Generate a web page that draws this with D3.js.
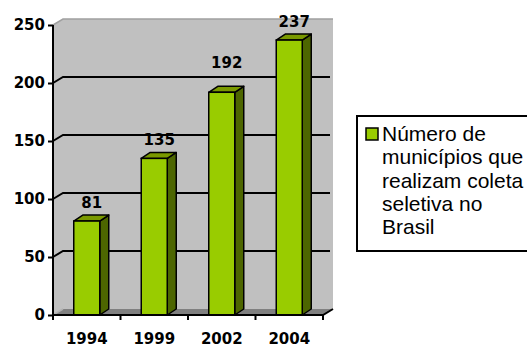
<!DOCTYPE html>
<html>
<head>
<meta charset="utf-8">
<script src="https://d3js.org/d3.v7.min.js"></script>
<style>
  html, body { margin: 0; padding: 0; background: #ffffff; }
  svg { display: block; }
</style>
</head>
<body>
<div id="chart"></div>
<script>
// Chart data
const years = ["1994", "1999", "2002", "2004"];
const municipios = [81, 135, 192, 237];
const yTicks = [0, 50, 100, 150, 200, 250];
const seriesName = ["Número de", "municípios que", "realizam coleta", "seletiva no", "Brasil"];

const W = 527, H = 351;
const svg = d3.select("#chart").append("svg").attr("width", W).attr("height", H);

// Plot frame and oblique depth
const x0 = 53, x1 = 323, yBase = 315, yTop = 25;
const DX = 10, DY = -6;      // wall depth
const BDX = 9, BDY = -6;     // bar depth

const y = d3.scaleLinear().domain([0, 250]).range([yBase, yTop]);
const x = d3.scaleBand().domain(years).range([x0, x1]);

const labelFont = "'DejaVu Sans', Verdana, sans-serif";

// Back + side wall
svg.append("path")
  .attr("d", `M${x0},${y(250)} L${x0 + DX},${y(250) + DY} L${x1 + DX},${y(250) + DY} L${x1 + DX},${yBase + DY} L${x0 + DX},${yBase + DY} L${x0},${yBase} Z`)
  .attr("fill", "#c0c0c0");
// top edge of the wall
svg.append("path")
  .attr("d", `M${x0},${y(250)} L${x0 + DX},${y(250) + DY} L${x1 + DX},${y(250) + DY}`)
  .attr("fill", "none").attr("stroke", "#a0a0a0").attr("stroke-width", 1.5);

// Floor
svg.append("path")
  .attr("d", `M${x0},${yBase} L${x0 + DX},${yBase + DY} L${x1 + DX},${yBase + DY} L${x1},${yBase} Z`)
  .attr("fill", "#808080");
svg.append("path")
  .attr("d", `M${x0},${yBase} L${x0 + DX},${yBase + DY}`)
  .attr("stroke", "#b0b0b0").attr("stroke-width", 1.5);

// Gridlines on the back wall, with their diagonal links to the axis
const gridVals = yTicks.filter(v => v > 0 && v < 250);
svg.append("g").selectAll("path").data(gridVals).join("path")
  .attr("d", v => `M${x0},${y(v)} L${x0 + DX},${y(v) + DY} L${x1 + DX - 3},${y(v) + DY}`)
  .attr("fill", "none").attr("stroke", "#000").attr("stroke-width", 2);

// Y axis
const yAxis = d3.axisLeft(y).tickValues(yTicks).tickSize(5).tickPadding(3);
const gy = svg.append("g").attr("transform", `translate(${x0},0)`).call(yAxis);
gy.select(".domain").remove();
gy.selectAll(".tick line").attr("stroke", "#000").attr("stroke-width", 2);
gy.selectAll(".tick text")
  .attr("font-family", labelFont).attr("font-weight", "bold").attr("font-size", 15)
  .attr("fill", "#000");
svg.append("line").attr("x1", x0).attr("x2", x0).attr("y1", y(250)).attr("y2", yBase + 5)
  .attr("stroke", "#000").attr("stroke-width", 2);

// Bars (front, side, top faces)
const bw = 26;
const bars = svg.append("g").selectAll("g").data(years.map((yr, i) => ({ yr, v: municipios[i] }))).join("g");
bars.each(function (d) {
  const g = d3.select(this);
  const bx = x(d.yr) + x.bandwidth() / 2 - bw / 2;
  const top = y(d.v);
  g.append("path")
    .attr("d", `M${bx + bw},${yBase} L${bx + bw + BDX},${yBase + BDY} L${bx + bw + BDX},${top + BDY} L${bx + bw},${top} Z`)
    .attr("fill", "#4d6600").attr("stroke", "#000").attr("stroke-width", 1.5).attr("stroke-linejoin", "round");
  g.append("path")
    .attr("d", `M${bx},${top} L${bx + BDX},${top + BDY} L${bx + bw + BDX},${top + BDY} L${bx + bw},${top} Z`)
    .attr("fill", "#7a9900").attr("stroke", "#000").attr("stroke-width", 1.5).attr("stroke-linejoin", "round");
  g.append("rect")
    .attr("x", bx).attr("y", top).attr("width", bw).attr("height", yBase - top)
    .attr("fill", "#99cc00").attr("stroke", "#000").attr("stroke-width", 1.5);
});

// X axis
const xAxis = d3.axisBottom(x).tickSize(0).tickPadding(18);
const gx = svg.append("g").attr("transform", `translate(0,${yBase})`).call(xAxis);
gx.select(".domain").remove();
gx.selectAll(".tick text")
  .attr("font-family", labelFont).attr("font-weight", "bold").attr("font-size", 15)
  .attr("fill", "#000");
svg.append("path")
  .attr("d", `M${x0},${yBase} L${x1},${yBase} L${x1 + DX},${yBase + DY}`)
  .attr("fill", "none").attr("stroke", "#000").attr("stroke-width", 2);
// category separator ticks
const sepX = years.map((d, i) => x0 + x.step() * (i + 1));
svg.append("g").selectAll("line").data(sepX).join("line")
  .attr("x1", d => d).attr("x2", d => d).attr("y1", yBase).attr("y2", yBase + 5)
  .attr("stroke", "#000").attr("stroke-width", 2);

// Value labels above each bar; lifted above a gridline they would cross
const gridYs = gridVals.map(v => y(v) + DY);
svg.append("g").selectAll("text").data(years.map((yr, i) => ({ yr, v: municipios[i] }))).join("text")
  .attr("x", d => x(d.yr) + x.bandwidth() / 2 + 5)
  .attr("y", d => {
    let base = y(d.v) - 13;
    const hit = gridYs.find(gy => gy > base - 8 && gy < base);
    if (hit !== undefined) base = hit - 9;
    return base;
  })
  .attr("text-anchor", "middle")
  .attr("font-family", labelFont).attr("font-weight", "bold").attr("font-size", 15)
  .attr("fill", "#000")
  .text(d => d.v);

// Legend
const lg = svg.append("g");
lg.append("rect").attr("x", 357).attr("y", 116).attr("width", 200).attr("height", 135)
  .attr("fill", "#fff").attr("stroke", "#000").attr("stroke-width", 2);
lg.append("rect").attr("x", 366).attr("y", 128).attr("width", 12).attr("height", 12)
  .attr("fill", "#99cc00").attr("stroke", "#000").attr("stroke-width", 1.5);
lg.append("text")
  .attr("font-family", "'Liberation Sans', Arial, sans-serif").attr("font-size", 21).attr("fill", "#000")
  .selectAll("tspan").data(seriesName).join("tspan")
  .attr("x", 382).attr("y", (d, i) => 141 + i * 23.3)
  .text(d => d);
</script>
</body>
</html>
